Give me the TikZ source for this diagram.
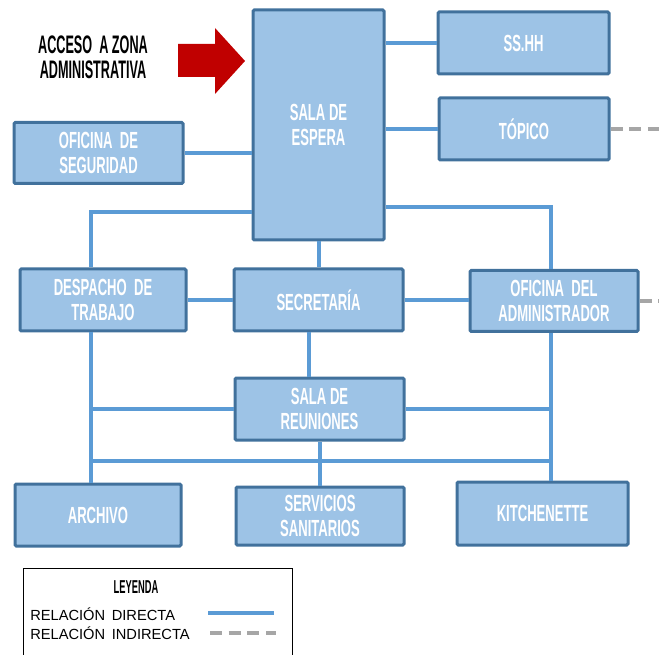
\documentclass[tikz,border=0pt]{standalone}
\usepackage{fontspec}
\setmainfont{Liberation Sans}
\newfontfamily\boxfont[FakeStretch=0.56]{Liberation Sans}
\newfontfamily\titlefont[FakeStretch=0.5]{Liberation Sans}
\newfontfamily\legfont{Liberation Sans}
\definecolor{boxfill}{HTML}{9DC3E6}
\definecolor{boxline}{HTML}{41719C}
\definecolor{linkblue}{HTML}{5B9BD5}
\definecolor{linkgray}{HTML}{A6A6A6}
\definecolor{arrowred}{HTML}{C00000}
\tikzset{
  room/.style={draw=boxline, fill=boxfill, line width=2.25pt, rounded corners=1pt,
    text=white, align=center, inner sep=0pt,
    font=\boxfont\bfseries\fontsize{17.5}{18.75}\selectfont},
  direct/.style={draw=linkblue, line width=3pt},
  indirect/.style={draw=linkgray, line width=3pt, dash pattern=on 9pt off 5pt},
}
\begin{document}
\begin{tikzpicture}[x=0.75pt,y=-0.75pt]
\useasboundingbox (0,0) rectangle (659,655);

% rooms
\node[room, minimum width=131*0.75pt, minimum height=230*0.75pt] (espera) at (318.5,125) {SALA DE\\ESPERA};
\node[room, minimum width=171*0.75pt, minimum height=62*0.75pt] (sshh) at (523.5,43) {SS.HH};
\node[room, minimum width=170*0.75pt, minimum height=62*0.75pt] (topico) at (524,129) {TÓPICO};
\node[room, minimum width=169*0.75pt, minimum height=61*0.75pt] (seguridad) at (98.5,153) {OFICINA \ DE\\SEGURIDAD};
\node[room, minimum width=166*0.75pt, minimum height=62*0.75pt] (despacho) at (103,300) {DESPACHO \ DE\\TRABAJO};
\node[room, minimum width=169*0.75pt, minimum height=62*0.75pt] (secretaria) at (318.5,300) {SECRETARÍA};
\node[room, minimum width=168*0.75pt, minimum height=61*0.75pt] (admin) at (554,301) {OFICINA \ DEL\\ADMINISTRADOR};
\node[room, minimum width=169*0.75pt, minimum height=62*0.75pt] (reuniones) at (319.5,409) {SALA DE\\REUNIONES};
\node[room, minimum width=166*0.75pt, minimum height=62*0.75pt] (archivo) at (98,515) {ARCHIVO};
\node[room, minimum width=168*0.75pt, minimum height=58*0.75pt] (servicios) at (320,516) {SERVICIOS\\SANITARIOS};
\node[room, minimum width=171*0.75pt, minimum height=63*0.75pt] (kitchen) at (542.5,513.5) {KITCHENETTE};

% junction points of the corridors
\coordinate (jl) at (91,212);
\coordinate (jr) at (551,207);
\coordinate (jb) at (91,461);
\coordinate (edge) at (659,0);

% direct relations
\draw[direct] (espera.east |- sshh.west) -- (sshh.west);
\draw[direct] (espera.east |- topico.west) -- (topico.west);
\draw[direct] (seguridad.east) -- (seguridad.east -| espera.west);
\draw[direct] (espera.west |- jl) -- (jl) -- (jl |- despacho.north);
\draw[direct] (espera.east |- jr) -- (jr) -- (jr |- admin.north);
\draw[direct] (espera.south) -- (espera.south |- secretaria.north);
\draw[direct] (despacho.east) -- (secretaria.west);
\draw[direct] (secretaria.east) -- (secretaria.east -| admin.west);
\draw[direct] ([xshift=-7.5pt]secretaria.south) -- ([xshift=-7.5pt]secretaria.south |- reuniones.north);
\draw[direct] (jl |- despacho.south) -- (jl |- archivo.north);
\draw[direct] (jl |- reuniones.west) -- (reuniones.west);
\draw[direct] (reuniones.east) -- (jr |- reuniones.east);
\draw[direct] (jr |- admin.south) -- (jr |- kitchen.north);
\draw[direct] (jb) -- (jr |- jb);
\draw[direct] (reuniones.south) -- (reuniones.south |- servicios.north);

% indirect relations
\draw[indirect] (topico.east) -- (topico.east -| edge);
\draw[indirect] (admin.east) -- (admin.east -| edge);

% access arrow
\fill[arrowred] (178,44) -- (215,44) -- (215,28) -- (245,61) -- (215,94) -- (215,77) -- (178,77) -- cycle;
\node[align=center, inner sep=0pt, font=\titlefont\bfseries\fontsize{19}{18.75}\selectfont] (acceso) at (93,57) {ACCESO \ A ZONA\\ADMINISTRATIVA};

% legend
\draw[black, line width=0.75pt] (23,568) rectangle (292,665);
\node[inner sep=0pt, font=\titlefont\bfseries\fontsize{14}{14}\selectfont] (leyenda) at (136,587) {LEYENDA};
\node[anchor=west, inner sep=0pt, font=\legfont\fontsize{11}{13}\selectfont] (ldir) at (30,614) {RELACIÓN \,DIRECTA};
\node[anchor=west, inner sep=0pt, font=\legfont\fontsize{11}{13}\selectfont] (lind) at (30,633) {RELACIÓN \,INDIRECTA};
\coordinate (ld1) at (208,613);
\coordinate (ld2) at (274,613);
\coordinate (li1) at (210,633);
\coordinate (li2) at (276,633);
\draw[direct] (ld1) -- (ld2);
\draw[indirect] (li1) -- (li2);
\end{tikzpicture}
\end{document}
